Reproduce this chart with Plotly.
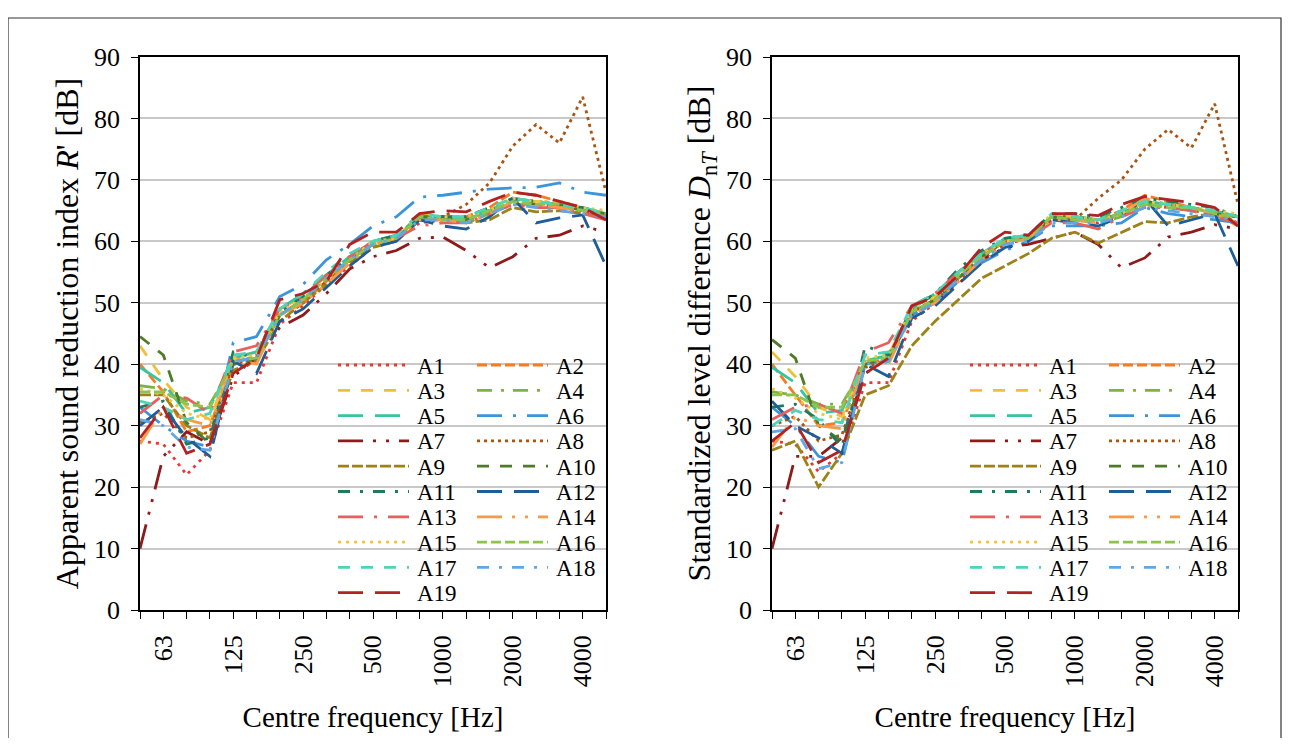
import plotly.graph_objects as go

# ---------------- data ----------------
freqs = ["50", "63", "80", "100", "125", "160", "200", "250", "315", "400", "500",
         "630", "800", "1000", "1250", "1600", "2000", "2500", "3150", "4000", "5000"]
tick_labels = ["63", "125", "250", "500", "1000", "2000", "4000"]
names = ["A%d" % i for i in range(1, 20)]

# Apparent sound reduction index R' [dB]
R_A1 = [27.5, 27.0, 22.0, 26.0, 37.0, 37.0, 46.5, 49.5, 53.0, 56.0, 59.0, 60.5, 63.0, 63.5, 63.0, 64.5, 66.5, 66.0, 65.5, 65.0, 64.0]
R_A2 = [40.0, 35.5, 29.0, 30.0, 40.0, 41.5, 48.0, 50.0, 53.5, 57.0, 60.0, 60.5, 64.0, 64.0, 64.0, 65.5, 68.0, 67.5, 66.5, 65.5, 64.0]
R_A3 = [43.0, 37.5, 33.0, 31.0, 41.0, 42.0, 49.0, 51.0, 54.0, 57.5, 59.5, 60.5, 64.5, 64.0, 63.5, 65.0, 66.5, 66.5, 66.5, 65.0, 64.0]
R_A4 = [36.5, 36.0, 34.0, 33.5, 40.0, 40.5, 48.0, 50.5, 54.0, 57.0, 59.5, 60.5, 64.0, 63.5, 63.0, 64.5, 66.0, 66.0, 65.5, 64.5, 64.0]
R_A5 = [39.5, 37.0, 32.0, 33.0, 41.0, 42.0, 49.0, 51.5, 54.5, 57.5, 60.0, 61.0, 64.0, 64.0, 63.5, 65.0, 67.0, 66.5, 66.0, 65.5, 64.5]
R_A6 = [33.0, 30.0, 27.5, 26.5, 43.5, 44.5, 51.0, 53.0, 57.0, 59.5, 62.5, 64.0, 67.2, 67.5, 68.0, 68.5, 68.7, 68.8, 69.5, 68.0, 67.5]
R_A7 = [10.0, 25.0, 29.0, 27.0, 38.0, 41.0, 46.0, 48.0, 51.5, 55.5, 57.5, 58.5, 60.5, 60.7, 58.5, 55.7, 57.5, 60.5, 61.0, 62.5, 61.5]
R_A8 = [30.5, 32.0, 28.0, 29.0, 40.0, 41.0, 48.0, 50.0, 53.5, 57.0, 59.5, 60.5, 63.5, 64.0, 66.0, 69.5, 75.5, 79.0, 76.0, 83.5, 68.0]
R_A9 = [35.0, 35.0, 30.0, 28.0, 39.0, 40.5, 47.0, 50.0, 53.0, 56.5, 59.0, 60.0, 63.5, 63.5, 63.0, 63.5, 65.5, 64.8, 65.0, 64.5, 64.0]
R_A10 = [44.5, 41.5, 30.5, 27.0, 40.0, 41.0, 48.0, 50.5, 54.0, 57.0, 59.5, 60.5, 64.0, 64.0, 63.5, 65.0, 66.5, 66.0, 66.0, 65.0, 64.5]
R_A11 = [33.0, 34.0, 27.0, 28.0, 42.0, 41.0, 48.5, 51.0, 54.5, 57.5, 60.0, 61.0, 64.0, 64.0, 64.0, 65.5, 67.0, 66.5, 66.0, 65.5, 64.5]
R_A12 = [30.0, 33.0, 28.0, 25.0, 40.5, 38.5, 47.0, 49.0, 52.5, 56.0, 59.0, 60.0, 63.5, 62.5, 62.0, 64.0, 67.0, 63.0, 63.8, 64.3, 56.0]
R_A13 = [32.0, 35.0, 34.5, 32.0, 42.0, 43.0, 49.0, 51.0, 54.5, 57.5, 60.0, 60.5, 62.5, 63.0, 63.0, 64.5, 66.0, 65.5, 65.5, 64.5, 63.5]
R_A14 = [27.0, 33.0, 31.0, 30.0, 41.0, 40.0, 48.0, 50.0, 53.0, 56.5, 59.5, 60.5, 63.5, 63.5, 63.0, 64.5, 66.5, 66.0, 65.5, 65.0, 64.0]
R_A15 = [36.0, 35.0, 32.0, 31.0, 41.0, 41.5, 48.5, 50.5, 54.0, 57.0, 60.0, 60.5, 64.5, 64.0, 64.0, 65.0, 67.0, 66.5, 66.5, 65.5, 65.0]
R_A16 = [35.5, 35.5, 33.5, 33.0, 40.5, 41.0, 48.0, 50.5, 54.0, 57.0, 59.5, 60.5, 64.0, 63.5, 63.5, 65.0, 66.5, 66.0, 66.0, 65.0, 64.5]
R_A17 = [34.0, 33.0, 31.0, 32.0, 41.5, 42.0, 49.0, 51.5, 55.0, 58.0, 60.0, 61.0, 64.5, 64.0, 64.0, 65.5, 67.0, 66.5, 66.0, 65.5, 64.5]
R_A18 = [31.0, 30.0, 26.5, 26.0, 40.5, 41.0, 48.0, 50.5, 54.0, 57.0, 59.5, 60.5, 63.5, 63.5, 63.0, 64.5, 66.0, 65.5, 65.0, 64.5, 64.0]
R_A19 = [28.0, 33.0, 25.5, 27.0, 38.5, 41.0, 50.5, 51.5, 53.5, 59.5, 61.5, 61.5, 64.5, 65.0, 64.8, 66.5, 68.0, 67.5, 66.5, 65.5, 63.5]

# Standardized level difference DnT [dB]
D_A1 = [27.5, 27.0, 22.5, 25.5, 37.0, 37.0, 47.0, 50.0, 53.5, 57.0, 59.5, 60.5, 63.5, 63.5, 63.0, 64.5, 66.0, 65.5, 65.0, 64.5, 63.0]
D_A2 = [40.0, 35.0, 30.0, 30.5, 40.0, 41.0, 48.5, 50.5, 54.0, 57.5, 60.0, 60.5, 64.0, 64.0, 63.5, 65.0, 67.5, 66.5, 65.5, 64.5, 62.5]
D_A3 = [42.0, 38.0, 33.0, 31.5, 40.5, 41.5, 49.0, 51.0, 54.5, 58.0, 60.0, 60.5, 64.0, 64.0, 63.5, 64.5, 66.5, 66.0, 65.5, 64.5, 63.5]
D_A4 = [35.5, 35.0, 33.5, 33.5, 40.0, 40.5, 48.5, 50.5, 54.0, 57.5, 60.0, 60.5, 64.0, 63.5, 63.0, 64.0, 66.0, 65.5, 65.0, 64.0, 63.5]
D_A5 = [39.5, 37.0, 32.0, 32.5, 40.5, 41.5, 49.0, 51.5, 55.0, 58.0, 60.5, 61.0, 64.0, 64.0, 63.5, 64.5, 66.5, 66.0, 65.5, 65.0, 64.0]
D_A6 = [33.0, 30.0, 25.0, 24.0, 40.0, 40.5, 48.0, 50.0, 53.5, 56.5, 58.5, 60.0, 62.5, 62.5, 62.5, 63.0, 65.5, 64.5, 64.0, 63.5, 63.0]
D_A7 = [10.0, 25.0, 25.0, 28.0, 38.5, 41.0, 48.0, 50.0, 53.0, 57.0, 59.0, 59.5, 60.5, 61.5, 59.5, 55.7, 57.3, 60.7, 61.5, 62.7, 62.0]
D_A8 = [30.0, 31.5, 27.5, 28.5, 39.5, 40.5, 48.5, 50.5, 54.0, 57.5, 60.0, 60.5, 63.5, 63.5, 67.0, 70.0, 75.0, 78.2, 75.2, 82.4, 66.0]
D_A9 = [26.0, 27.5, 20.0, 25.5, 35.0, 36.5, 43.0, 47.0, 50.5, 54.0, 56.0, 58.0, 60.5, 61.5, 59.7, 61.5, 63.2, 63.0, 64.0, 64.5, 64.0]
D_A10 = [44.0, 41.0, 30.0, 27.5, 40.0, 41.0, 48.5, 50.5, 54.0, 57.5, 60.0, 60.5, 64.0, 64.0, 63.5, 64.5, 66.5, 66.0, 65.5, 64.5, 64.0]
D_A11 = [33.0, 33.5, 31.0, 26.5, 43.0, 41.5, 49.0, 51.5, 55.5, 58.5, 60.5, 61.0, 64.5, 64.5, 64.0, 65.5, 67.0, 66.5, 66.0, 65.5, 64.0]
D_A12 = [34.0, 30.0, 28.0, 25.5, 40.0, 38.0, 47.5, 49.5, 53.0, 56.5, 59.0, 60.0, 63.5, 63.0, 62.5, 64.0, 67.0, 62.5, 63.5, 64.5, 56.0]
D_A13 = [31.0, 33.0, 33.5, 32.0, 42.0, 43.5, 49.5, 51.5, 55.0, 58.0, 60.0, 60.5, 63.0, 63.0, 62.0, 64.0, 65.5, 65.5, 65.0, 64.0, 63.0]
D_A14 = [26.5, 31.5, 30.0, 29.5, 40.5, 40.0, 48.0, 50.0, 53.5, 57.0, 59.5, 60.5, 63.5, 63.5, 63.0, 64.5, 67.0, 66.0, 65.5, 64.5, 63.0]
D_A15 = [36.0, 34.5, 32.0, 31.0, 41.0, 41.5, 49.0, 51.0, 54.5, 58.0, 60.0, 60.5, 64.5, 64.0, 63.5, 64.5, 66.5, 66.0, 65.5, 65.0, 64.5]
D_A16 = [35.0, 35.0, 33.0, 33.0, 40.5, 41.0, 48.5, 50.5, 54.5, 57.5, 60.0, 60.5, 64.0, 63.5, 63.5, 64.5, 66.0, 65.5, 65.5, 64.5, 64.0]
D_A17 = [30.0, 32.5, 31.0, 30.5, 41.5, 42.0, 49.5, 51.5, 55.0, 58.0, 60.5, 61.0, 64.5, 64.0, 63.5, 65.0, 66.5, 66.0, 65.5, 65.0, 64.0]
D_A18 = [29.0, 29.5, 23.0, 24.0, 40.0, 40.5, 48.0, 50.0, 54.0, 57.0, 59.5, 60.0, 63.0, 63.0, 63.0, 64.0, 65.5, 65.0, 64.5, 64.0, 63.5]
D_A19 = [27.5, 30.5, 24.0, 26.0, 38.5, 41.0, 49.5, 51.0, 54.5, 59.0, 61.5, 61.0, 64.5, 64.5, 64.2, 66.0, 67.3, 66.8, 66.3, 65.5, 62.5]

R_series = [R_A1, R_A2, R_A3, R_A4, R_A5, R_A6, R_A7, R_A8, R_A9, R_A10,
            R_A11, R_A12, R_A13, R_A14, R_A15, R_A16, R_A17, R_A18, R_A19]
D_series = [D_A1, D_A2, D_A3, D_A4, D_A5, D_A6, D_A7, D_A8, D_A9, D_A10,
            D_A11, D_A12, D_A13, D_A14, D_A15, D_A16, D_A17, D_A18, D_A19]

# ---------------- styles ----------------
colors = ["#E53935", "#F57C22", "#EFBE3A", "#7DB346", "#36C5A0", "#3B95DA", "#8E1B1B",
          "#A85412", "#9D8219", "#4F7A28", "#1E7B5C", "#1F5D96", "#E8605E", "#F89A48",
          "#EFC73F", "#8DC44E", "#4ED4B6", "#5FA8E6", "#B22222"]
dashes = ["3px,5px", "10px,4px", "12px,11px", "15px,9px,3px,9px", "25px,12px",
          "25px,11px,3px,11px", "25px,10px,3px,10px,3px,10px", "3px,4px", "11px,3px",
          "12px,11px", "12px,10px,3px,10px", "25px,12px", "25px,11px,3px,11px",
          "25px,10px,3px,10px,3px,10px", "3px,5px", "10px,4px", "12px,11px",
          "12px,10px,3px,10px", "25px,12px"]
LW = 2.8
FONT = "Liberation Serif, Times New Roman, serif"

# page has an 8px body margin: figure is sized so it fits the 1290x746 window
OFF = 8
W, H = 1274, 730
ML, MT = 140 - OFF, 57 - OFF
MR = W - (1238 - OFF)
MB = H - (610 - OFF)
PW = W - ML - MR
PH = H - MT - MB


def px(xs_):  # screen x -> paper
    return (xs_ - OFF - ML) / PW


def py(ys_):  # screen y -> paper
    return (H - MB - (ys_ - OFF)) / PH


fig = go.Figure()
xs = list(range(len(freqs)))
for ax, series in (("", R_series), ("2", D_series)):
    for i, vals in enumerate(series):
        fig.add_trace(go.Scatter(
            x=xs, y=vals, mode="lines", name=names[i], showlegend=False,
            line=dict(color=colors[i], width=LW, dash=dashes[i]),
            xaxis="x" + ax, yaxis="y" + ax, hoverinfo="skip"))

tickvals = [freqs.index(t) for t in tick_labels]
xcommon = dict(range=[0, len(freqs) - 1], tickmode="array", tickvals=tickvals, ticktext=tick_labels,
               tickangle=-90, ticks="outside", ticklen=7, tickwidth=1.3, tickcolor="black",
               minor=dict(dtick=1, tick0=0, ticks="outside", ticklen=7, tickwidth=1.3,
                          tickcolor="black", showgrid=False),
               showline=True, linecolor="black", linewidth=1.5, mirror=True,
               showgrid=False, zeroline=False, ticklabelstandoff=6,
               tickfont=dict(family=FONT, size=26, color="black"),
               title=dict(text="Centre frequency [Hz]", standoff=21,
                          font=dict(family=FONT, size=29, color="black")))
ycommon = dict(range=[0, 90], dtick=10, ticks="outside", ticklen=7, tickwidth=1.3,
               tickcolor="black", showline=True, linecolor="black", linewidth=1.5,
               mirror=True, showgrid=True, gridcolor="#C8C8C8", gridwidth=1.6,
               zeroline=False, ticklabelstandoff=6,
               tickfont=dict(family=FONT, size=26, color="black"))

d1 = (606 - 140) / PW
d2 = (772 - 140) / PW
fig.update_layout(
    width=W, height=H, margin=dict(l=ML, r=MR, t=MT, b=MB, autoexpand=False),
    paper_bgcolor="white", plot_bgcolor="white", showlegend=False,
    font=dict(family=FONT, color="black"),
    xaxis=dict(domain=[0, d1], anchor="y", **xcommon),
    xaxis2=dict(domain=[d2, 1], anchor="y2", **xcommon),
    yaxis=dict(anchor="x", title=dict(text="Apparent sound reduction index <i>R</i>' [dB]",
                                      standoff=6, font=dict(family=FONT, size=32)), **ycommon),
    yaxis2=dict(anchor="x2", title=dict(text="Standardized level difference <i>D</i><sub>n<i>T</i></sub> [dB]",
                                        standoff=6, font=dict(family=FONT, size=32)), **ycommon),
)

shapes = []
annotations = []
# outer frame
shapes.append(dict(type="rect", xref="paper", yref="paper", x0=px(8), x1=px(1281),
                   y0=py(760), y1=py(18), line=dict(color="#333333", width=1.2),
                   fillcolor="rgba(0,0,0,0)", layer="below"))

# custom two-column legends (one per panel)
for offset in (0, 632):
    for i, nm in enumerate(names):
        col, row = i % 2, i // 2
        x0 = 338 + offset + col * 139
        yrow = 365 + row * 25.3
        shapes.append(dict(type="line", xref="paper", yref="paper",
                           x0=px(x0), x1=px(x0 + 71), y0=py(yrow), y1=py(yrow),
                           line=dict(color=colors[i], width=LW, dash=dashes[i])))
        annotations.append(dict(xref="paper", yref="paper", x=px(x0 + 77), y=py(yrow + 1),
                                xanchor="left", yanchor="middle", showarrow=False, text=nm,
                                font=dict(family=FONT, size=23, color="black")))

fig.update_layout(shapes=shapes, annotations=annotations)
fig.write_html("out.html")
